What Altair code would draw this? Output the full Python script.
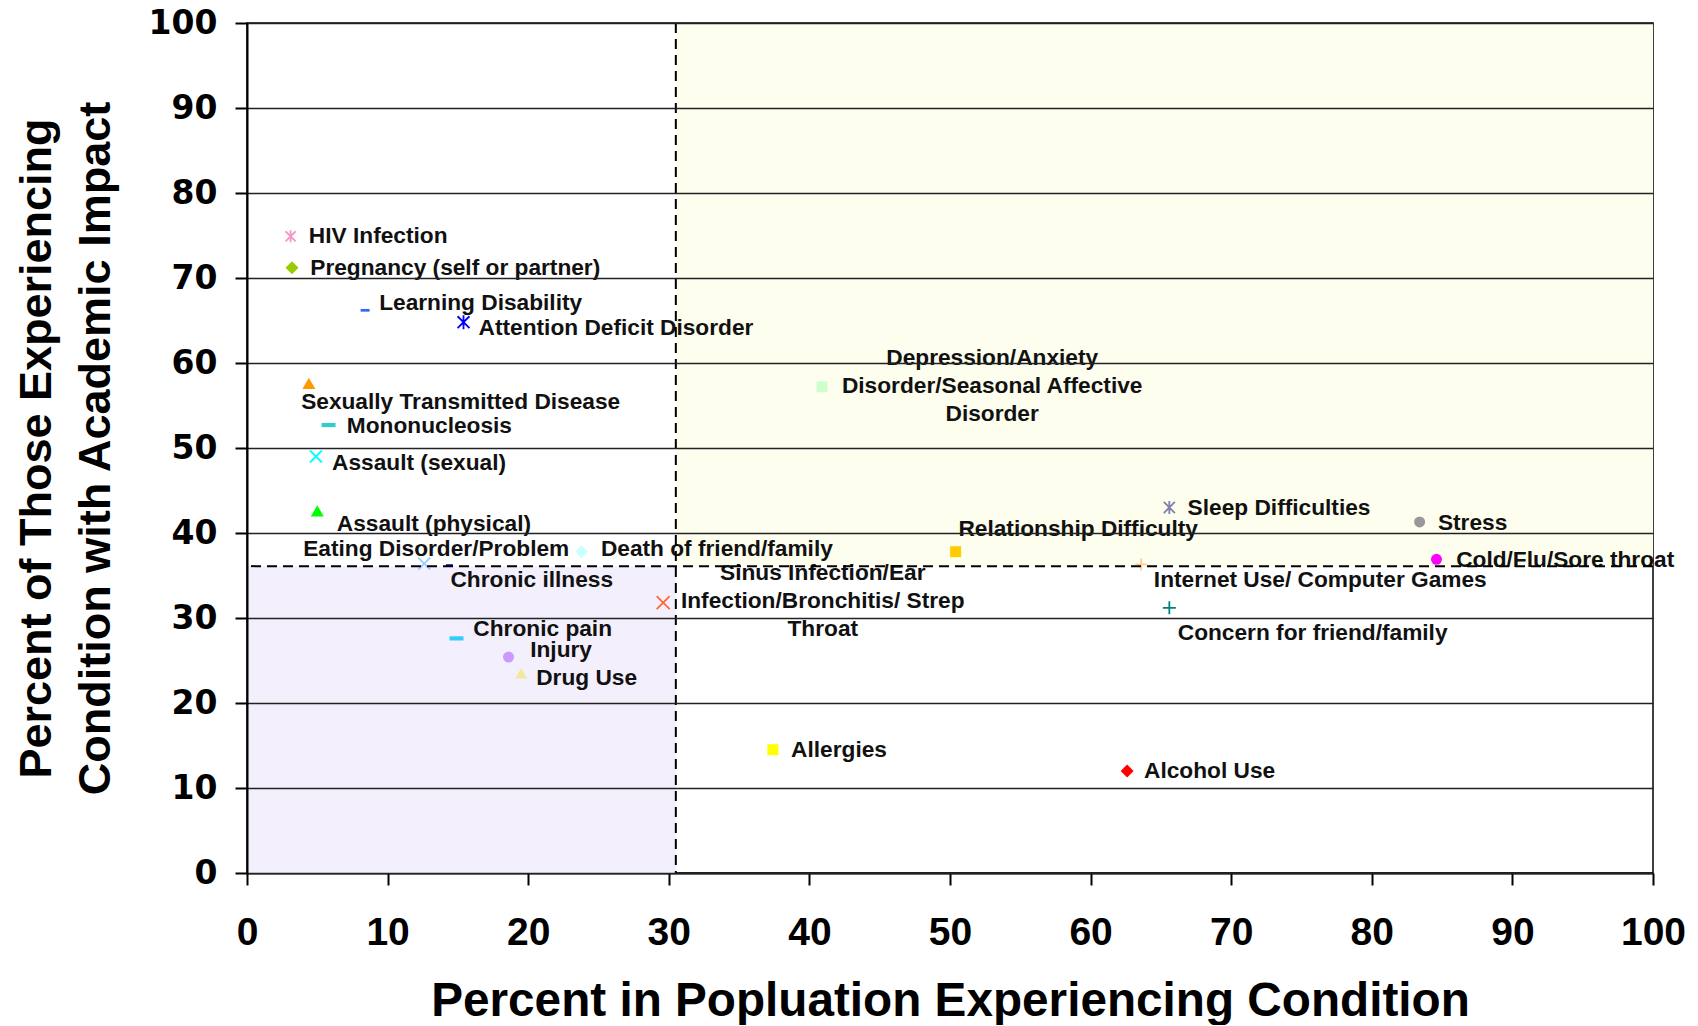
import altair as alt
import pandas as pd

# ---------------- data ----------------
conditions = [
    "HIV Infection", "Pregnancy (self or partner)", "Learning Disability",
    "Attention Deficit Disorder", "Sexually Transmitted Disease", "Mononucleosis",
    "Assault (sexual)", "Assault (physical)", "Eating Disorder/Problem",
    "Chronic illness", "Death of friend/family",
    "Sinus Infection/Ear\nInfection/Bronchitis/ Strep\nThroat",
    "Chronic pain", "Injury", "Drug Use",
    "Depression/Anxiety\nDisorder/Seasonal Affective\nDisorder",
    "Relationship Difficulty", "Internet Use/ Computer Games",
    "Concern for friend/family", "Sleep Difficulties", "Stress",
    "Cold/Flu/Sore throat", "Allergies", "Alcohol Use",
]
pct_population = [3.1, 3.2, 8.4, 15.4, 4.4, 5.8, 4.9, 5.0, 12.6, 14.4, 23.8, 29.6,
                  14.9, 18.6, 19.5, 40.9, 50.4, 63.6, 65.6, 65.6, 83.4, 84.6, 37.4, 62.6]
pct_impact = [74.9, 71.2, 66.2, 64.8, 57.6, 52.7, 49.0, 42.6, 36.4, 36.2, 37.8, 31.8,
              27.6, 25.4, 23.5, 57.2, 37.8, 36.3, 31.2, 43.0, 41.3, 36.9, 14.5, 12.0]

x_cut = 30.5   # vertical dashed divider
y_cut = 36.1   # horizontal dashed divider
ticks = list(range(0, 101, 10))

# ---------------- styles (marker look and label placement) ----------------
AST = "M0,-1L0,1M-0.85,-0.85L0.85,0.85M-0.85,0.85L0.85,-0.85"
XS = "M-1,-1L1,1M-1,1L1,-1"
PLUS = "M-1,0L1,0M0,-1L0,1"
DASH = "M-1,-0.3L1,-0.3L1,0.3L-1,0.3Z"

# shape, colour, size, filled
marker_style = [
    (AST, "#F598C8", 144, False),
    ("diamond", "#99CC00", 169, True),
    (DASH, "#3366FF", 81, True),
    (AST, "#0000FF", 196, False),
    ("triangle-up", "#FF9900", 169, True),
    (DASH, "#33CCCC", 196, True),
    (XS, "#00FFFF", 144, False),
    ("triangle-up", "#00FF00", 169, True),
    (XS, "#99CCFF", 144, False),
    (DASH, "#0000CC", 49, True),
    ("diamond", "#CCFFFF", 169, True),
    (XS, "#FF6633", 169, False),
    (DASH, "#33CCFF", 196, True),
    ("circle", "#CC99FF", 121, True),
    ("triangle-up", "#F2E8A0", 144, True),
    ("square", "#CCFFCC", 121, True),
    ("square", "#FFCC00", 121, True),
    (PLUS, "#FFCC99", 144, False),
    (PLUS, "#008080", 169, False),
    (AST, "#8080B0", 169, False),
    ("circle", "#999999", 121, True),
    ("circle", "#FF00FF", 121, True),
    ("square", "#FFFF00", 121, True),
    ("diamond", "#FF0000", 169, True),
]

# label offset from its point (data units); centred blocks are anchored at their first line
label_offset = [
    (1.3, 0.0, False), (1.3, 0.0, False), (1.0, 0.85, False), (1.07, -0.64, False),
    (-0.55, -2.13, False), (1.3, -0.13, False), (1.15, -0.76, False), (1.39, -1.53, False),
    (-8.6, 1.77, False), (0.07, -1.72, False), (1.37, 0.37, False), (11.35, 3.44, True),
    (1.2, 1.15, False), (1.54, 0.83, False), (1.07, -0.57, False), (12.1, 3.36, True),
    (0.2, 2.7, False), (0.9, -1.8, False), (0.6, -2.93, False), (1.3, 0.0, False),
    (1.3, -0.1, False), (1.4, -0.1, False), (1.3, 0.0, False), (1.2, 0.0, False),
]

rows = []
for i, name in enumerate(conditions):
    shp, col, sz, filled = marker_style[i]
    dx, dy, centred = label_offset[i]
    rows.append(dict(name=name, x=pct_population[i], y=pct_impact[i],
                     shape=shp, color=col, size=sz, filled=filled,
                     lx=pct_population[i] + dx, ly=pct_impact[i] + dy, centred=centred))
df = pd.DataFrame(rows)

regions = pd.DataFrame([
    dict(x=x_cut, x2=100, y=y_cut, y2=100, fill="#FEFEEE"),
    dict(x=0, x2=x_cut, y=0, y2=y_cut, fill="#F4EFFD"),
])

xscale = alt.Scale(domain=[0, 100], nice=False, zero=False)
yscale = alt.Scale(domain=[0, 100], nice=False, zero=False)

x_axis = alt.Axis(
    values=ticks, grid=False, tickSize=12, tickColor="black", tickWidth=2,
    domainColor="black", domainWidth=2,
    labelFont="Liberation Sans", labelFontWeight="bold", labelFontSize=39,
    labelColor="black", labelBaseline="alphabetic", labelPadding=59, labelFlush=False,
    title="Percent in Popluation Experiencing Condition",
    titleFont="Liberation Sans", titleFontWeight="bold", titleFontSize=47.7,
    titleColor="black", titleBaseline="alphabetic", titleY=142, titleX=703,
    titleAlign="center",
)
y_axis = alt.Axis(
    values=ticks, grid=True, gridColor="#222222", gridWidth=1.5, gridOpacity=1,
    tickSize=12, tickColor="black", tickWidth=2,
    domainColor="black", domainWidth=2,
    labelFont="DejaVu Sans", labelFontWeight="bold", labelFontSize=33,
    labelColor="black", labelPadding=18, labelFlush=False,
    title=["Percent of Those Experiencing", "Condition with Academic Impact"],
    titleFont="Liberation Sans", titleFontWeight="bold", titleFontSize=45,
    titleColor="black", titleAngle=270, titleX=-211, titleY=425,
    titleBaseline="middle", titleAlign="center", titleLineHeight=59,
    zindex=1,
)

shade = alt.Chart(regions).mark_rect().encode(
    x=alt.X("x:Q", scale=xscale, axis=x_axis),
    x2="x2:Q",
    y=alt.Y("y:Q", scale=yscale, axis=y_axis),
    y2="y2:Q",
    fill=alt.Fill("fill:N", scale=None),
)

base = alt.Chart(df)
pt_x = alt.X("x:Q", scale=xscale)
pt_y = alt.Y("y:Q", scale=yscale)

filled_pts = base.transform_filter("datum.filled").mark_point(
    filled=True, opacity=1, strokeWidth=0
).encode(
    x=pt_x, y=pt_y,
    shape=alt.Shape("shape:N", scale=None),
    fill=alt.Fill("color:N", scale=None),
    size=alt.Size("size:Q", scale=None),
)
stroked_pts = base.transform_filter("!datum.filled").mark_point(
    filled=False, opacity=1, strokeWidth=1.8
).encode(
    x=pt_x, y=pt_y,
    shape=alt.Shape("shape:N", scale=None),
    stroke=alt.Stroke("color:N", scale=None),
    size=alt.Size("size:Q", scale=None),
)

lab_x = alt.X("lx:Q", scale=xscale)
lab_y = alt.Y("ly:Q", scale=yscale)
labels_left = base.transform_filter("!datum.centred").mark_text(
    align="left", baseline="middle", font="Liberation Sans", fontWeight="bold",
    fontSize=22.7, color="#111111"
).encode(x=lab_x, y=lab_y, text="name:N")
labels_centre = base.transform_filter("datum.centred").mark_text(
    align="center", baseline="middle", font="Liberation Sans", fontWeight="bold",
    fontSize=22.7, color="#111111", lineBreak="\n", lineHeight=28
).encode(x=lab_x, y=lab_y, text="name:N")

vline = alt.Chart(pd.DataFrame({"x": [x_cut]})).mark_rule(
    color="black", strokeWidth=2, strokeDash=[10, 6]
).encode(x=alt.X("x:Q", scale=xscale))
hline = alt.Chart(pd.DataFrame({"y": [y_cut]})).mark_rule(
    color="black", strokeWidth=2, strokeDash=[10, 6]
).encode(y=alt.Y("y:Q", scale=yscale))

chart = alt.layer(
    shade, labels_left, labels_centre, filled_pts, stroked_pts, vline, hline
).properties(
    width=1406, height=850,
    padding={"left": 239, "top": 15, "right": 36, "bottom": 152},
    autosize=alt.AutoSizeParams(type="none"),
    background="white",
).configure_view(stroke="black", strokeWidth=1.5)

chart.save("out.html", embed_options={"renderer": "svg", "actions": False})
